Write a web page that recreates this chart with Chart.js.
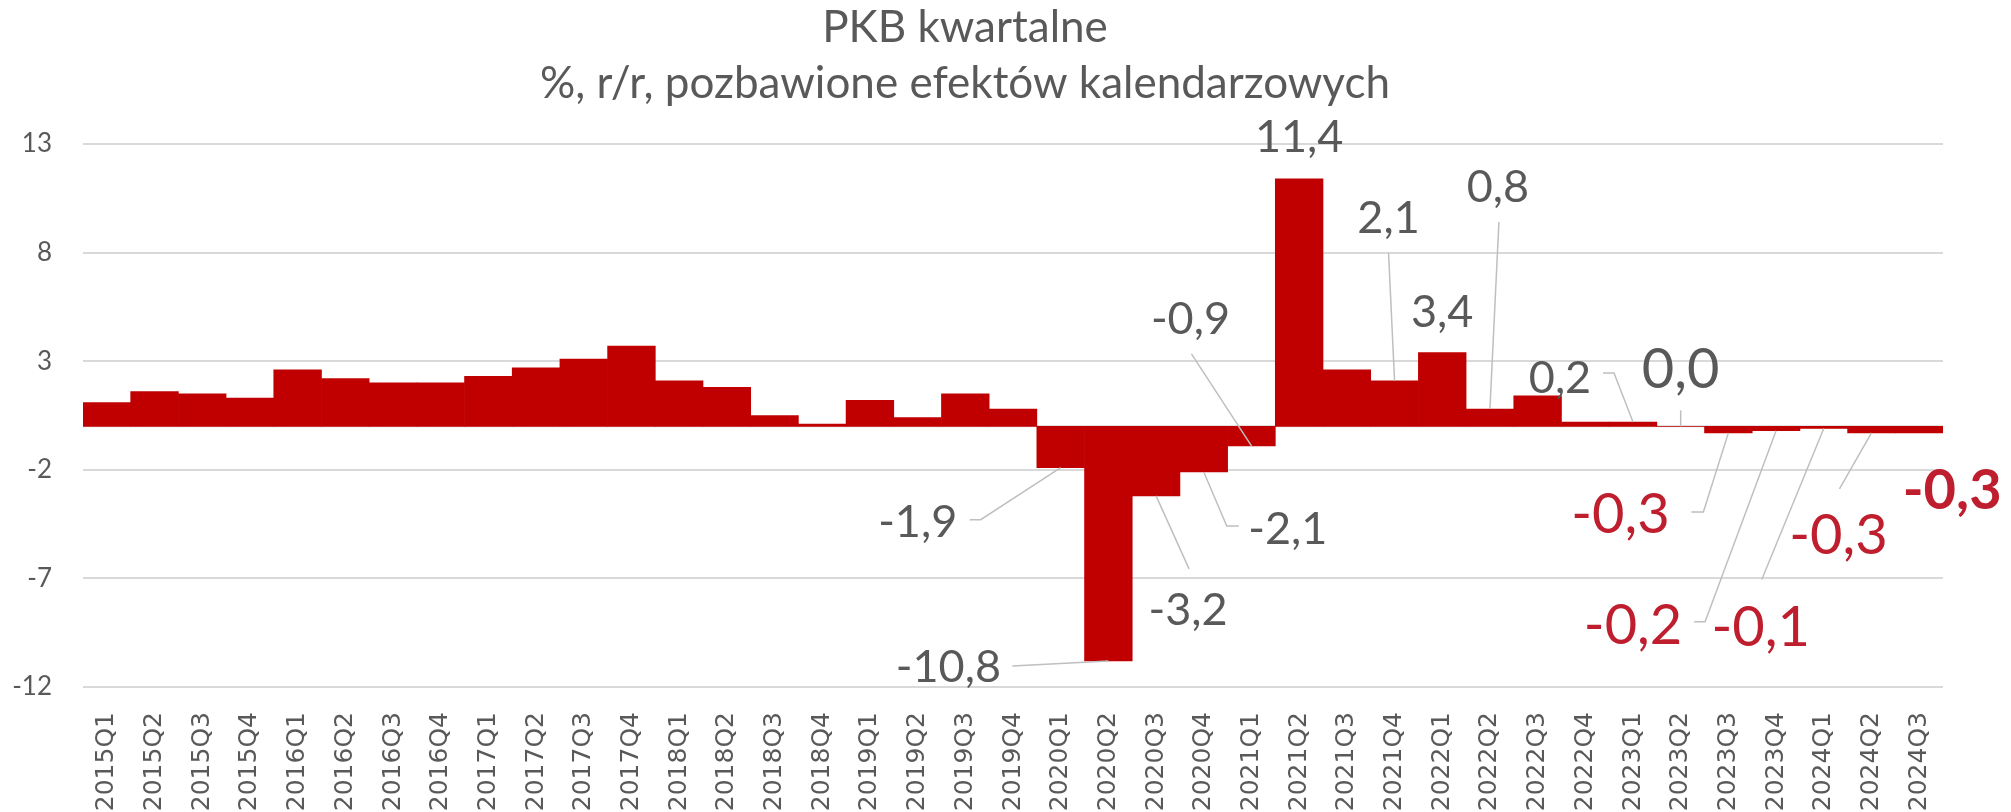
<!DOCTYPE html>
<html>
<head>
<meta charset="utf-8">
<script src="https://cdn.jsdelivr.net/npm/chart.js@4.4.1/dist/chart.umd.min.js"></script>
<style>
  html, body { margin: 0; padding: 0; background: #ffffff; }
  #wrap { width: 2011px; height: 812px; position: relative; }
</style>
</head>
<body>
<div id="wrap"><canvas id="gdpChart"></canvas></div>
<script>
// Data
const categories = [
    '2015Q1', '2015Q2', '2015Q3', '2015Q4',
    '2016Q1', '2016Q2', '2016Q3', '2016Q4',
    '2017Q1', '2017Q2', '2017Q3', '2017Q4',
    '2018Q1', '2018Q2', '2018Q3', '2018Q4',
    '2019Q1', '2019Q2', '2019Q3', '2019Q4',
    '2020Q1', '2020Q2', '2020Q3', '2020Q4',
    '2021Q1', '2021Q2', '2021Q3', '2021Q4',
    '2022Q1', '2022Q2', '2022Q3', '2022Q4',
    '2023Q1', '2023Q2', '2023Q3', '2023Q4',
    '2024Q1', '2024Q2', '2024Q3'
];
const gdpYoY = [
    1.1, 1.6, 1.5, 1.3,
    2.6, 2.2, 2.0, 2.0,
    2.3, 2.7, 3.1, 3.7,
    2.1, 1.8, 0.5, 0.1,
    1.2, 0.4, 1.5, 0.8,
    -1.9, -10.8, -3.2, -2.1,
    -0.9, 11.4, 2.6, 2.1,
    3.4, 0.8, 1.4, 0.2,
    0.2, 0.0, -0.3, -0.2,
    -0.1, -0.3, -0.3
];
const yTicks = [-12, -7, -2, 3, 8, 13];
const titleLines = ['PKB kwartalne', '%, r/r, pozbawione efektów kalendarzowych'];

// Where each data label sits, relative to the end of its bar (px)
const labelLayout = [
    { q: '2020Q1', dx: -143, dy: 69,  style: 'gray', line: [[-91, 52], [-80, 52]] },
    { q: '2020Q2', dx: -160, dy: 21,  style: 'gray', line: [[-96, 5]] },
    { q: '2020Q3', dx: 32,   dy: 129, style: 'gray', line: [[33, 73]] },
    { q: '2020Q4', dx: 84,   dy: 72,  style: 'gray', line: [[35, 54], [23, 54]] },
    { q: '2021Q1', dx: -61,  dy: -112, style: 'gray', line: [[-60, -92]] },
    { q: '2021Q2', dx: 0,    dy: -27, style: 'gray' },
    { q: '2021Q4', dx: -6,   dy: -148, style: 'gray', line: [[-6, -128]] },
    { q: '2022Q1', dx: 0,    dy: -26, style: 'gray' },
    { q: '2022Q2', dx: 8,    dy: -207, style: 'gray', line: [[9, -187]] },
    { q: '2023Q1', dx: -73,  dy: -29, style: 'gray', line: [[-30, -49], [-19, -49]] },
    { q: '2023Q2', dx: 0,    dy: -38, style: 'grayBig', line: [[0, -16]] },
    { q: '2023Q3', dx: -108, dy: 100, style: 'red', line: [[-37, 79], [-25, 79]] },
    { q: '2023Q4', dx: -143, dy: 213, style: 'red', line: [[-82, 191], [-71, 191]] },
    { q: '2024Q1', dx: -63,  dy: 217, style: 'red', line: [[-62, 151]] },
    { q: '2024Q2', dx: -33,  dy: 121, style: 'red', line: [[-32, 56]] },
    { q: '2024Q3', dx: 33,   dy: 76,  style: 'redBold' }
];

const labelStyles = {
    gray:    { font: '45px Lato', color: '#595959' },
    grayBig: { font: '56px Lato', color: '#595959' },
    red:     { font: '56px Lato', color: '#BE1E2D' },
    redBold: { font: 'bold 56px Lato', color: '#BE1E2D' }
};

function fmt(v) {
    return v.toFixed(1).replace('.', ',');
}

// Zero line, leader lines, labels and title
const annotatePlugin = {
    id: 'annotate',
    beforeDatasetsDraw(chart) {
        const ctx = chart.ctx;
        const area = chart.chartArea;
        const y0 = chart.scales.y.getPixelForValue(0);
        ctx.save();
        ctx.strokeStyle = '#D9D9D9';
        ctx.lineWidth = 2;
        ctx.beginPath();
        ctx.moveTo(area.left, y0);
        ctx.lineTo(area.right, y0);
        ctx.stroke();
        ctx.restore();
    },
    afterDatasetsDraw(chart) {
        const ctx = chart.ctx;
        const xs = chart.scales.x;
        const ys = chart.scales.y;
        ctx.save();
        labelLayout.forEach(l => {
            const i = categories.indexOf(l.q);
            const v = gdpYoY[i];
            const bx = xs.getPixelForValue(i);
            const by = ys.getPixelForValue(v);
            if (l.line) {
                ctx.strokeStyle = '#BFBFBF';
                ctx.lineWidth = 1.5;
                ctx.beginPath();
                ctx.moveTo(bx + l.line[0][0], by + l.line[0][1]);
                for (let k = 1; k < l.line.length; k++) {
                    ctx.lineTo(bx + l.line[k][0], by + l.line[k][1]);
                }
                ctx.lineTo(bx, by);
                ctx.stroke();
            }
            const st = labelStyles[l.style];
            ctx.font = st.font;
            ctx.fillStyle = st.color;
            ctx.textAlign = 'center';
            ctx.textBaseline = 'alphabetic';
            ctx.fillText(fmt(v), bx + l.dx, by + l.dy);
        });
        ctx.restore();
    },
    afterDraw(chart) {
        const ctx = chart.ctx;
        ctx.save();
        ctx.fillStyle = '#595959';
        ctx.textAlign = 'center';
        ctx.textBaseline = 'alphabetic';
        ctx.font = '400 44px Lato';
        ctx.fillText(titleLines[0], 965, 42);
        ctx.fillText(titleLines[1], 965, 98);
        ctx.restore();
    }
};

const ctx = document.getElementById('gdpChart').getContext('2d');
const gdpChart = new Chart(ctx, {
    type: 'bar',
    data: {
        labels: categories,
        datasets: [{
            data: gdpYoY,
            backgroundColor: '#C00000',
            borderWidth: 0,
            categoryPercentage: 1.0,
            barPercentage: 1.0
        }]
    },
    options: {
        responsive: true,
        maintainAspectRatio: false,
        animation: false,
        layout: {
            padding: { top: 144, right: 68, bottom: 0, left: 0 }
        },
        plugins: {
            legend: { display: false },
            tooltip: { enabled: false },
            title: { display: false }
        },
        scales: {
            x: {
                offset: true,
                grid: { display: false },
                border: { display: false },
                ticks: {
                    autoSkip: false,
                    minRotation: 90,
                    maxRotation: 90,
                    padding: 17,
                    color: '#595959',
                    font: { family: 'DejaVu Sans', size: 25 }
                },
                afterFit(scale) { scale.height = 125; }
            },
            y: {
                min: -12,
                max: 13,
                afterBuildTicks(scale) {
                    scale.ticks = yTicks.map(v => ({ value: v }));
                },
                grid: { color: '#D9D9D9', lineWidth: 2, drawTicks: false },
                border: { display: false },
                ticks: {
                    padding: 31,
                    color: '#595959',
                    font: { family: 'Lato', size: 26 }
                },
                afterFit(scale) { scale.width = 83; }
            }
        }
    },
    plugins: [annotatePlugin]
});
</script>
</body>
</html>
